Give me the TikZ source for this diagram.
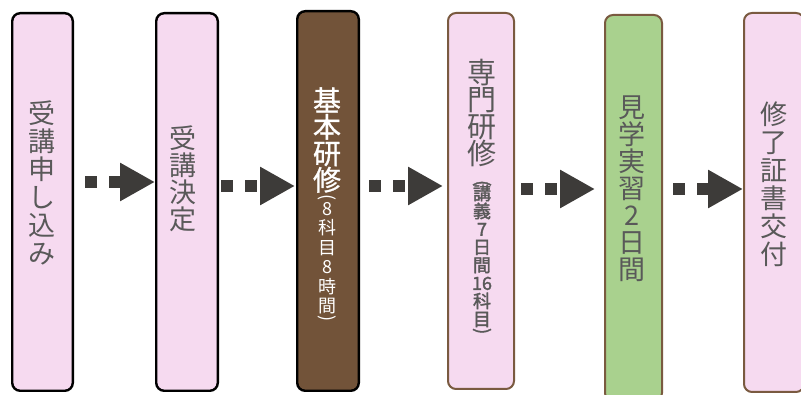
\documentclass[tikz,border=0pt]{standalone}
\usepackage{fontspec}
\setmainfont{Noto Sans CJK JP}
\newfontfamily\semibold[FakeBold=1]{Noto Sans CJK JP}
\newfontfamily\heavyish[FakeBold=2]{Noto Sans CJK JP}
\usepackage{graphicx}
\usetikzlibrary{positioning,calc,arrows.meta}

\definecolor{boxpink}{HTML}{F6DAF0}
\definecolor{boxgreen}{HTML}{A9D18E}
\definecolor{boxbrown}{HTML}{725339}
\definecolor{edgebrown}{HTML}{7A5A40}
\definecolor{flowgray}{HTML}{3D3B39}
\definecolor{textgray}{HTML}{595959}

\newcommand{\vpo}{\rotatebox[origin=c]{-90}{(}}
\newcommand{\vpc}{\rotatebox[origin=c]{-90}{)}}

\begin{document}
\begin{tikzpicture}[x=1pt, y=-1pt]
	\useasboundingbox (0, 0) rectangle (801, 395);
	\begin{scope}
		\tikzstyle{stage}=[rounded corners=8pt, inner sep=0pt, line width=2.4pt, draw=black, fill=boxpink]
		\tikzstyle{vtext}=[align=center, inner sep=0pt, text=textgray, font=\fontsize{27}{28}\selectfont]
		\tikzstyle{vsub}=[align=center, inner sep=0pt, font=\fontsize{18}{18}\selectfont]
		\tikzstyle{flow}=[flowgray, line width=12pt, dash pattern=on 12pt off 12pt, -{Triangle[length=35pt, width=36pt]}]

		\node[stage, minimum width=60.6pt, minimum height=377.6pt] (apply)   at (42.5, 202)  {};
		\node[stage, minimum width=61.6pt, minimum height=377.6pt] (accept)  at (187, 202)   {};
		\node[stage, fill=boxbrown, minimum width=61.6pt, minimum height=379.6pt] (basic) at (328, 201) {};
		\node[stage, line width=2pt, draw=edgebrown, minimum width=66pt, minimum height=376pt] (special) at (481, 201) {};
		\node[stage, line width=2pt, draw=edgebrown, fill=boxgreen, minimum width=57pt, minimum height=386pt] (visit) at (633.5, 208) {};
		\node[stage, line width=2pt, draw=edgebrown, minimum width=60pt, minimum height=379pt] (cert) at (774, 202.5) {};

		\coordinate (row1) at (0, 182);
		\coordinate (row2) at (0, 186);
		\coordinate (row3) at (0, 189);

		\draw [flow, shorten <=11pt] (apply.east |- row1) to (accept.west |- row1);
		\draw [flow, shorten <=2pt, shorten >=1pt] (accept.east |- row2) to (basic.west |- row2);
		\draw [flow, shorten <=9pt, shorten >=4pt] (basic.east |- row2) to (special.west |- row2);
		\draw [flow, shorten <=6pt, shorten >=9pt] (special.east |- row3) to (visit.west |- row3);
		\draw [flow, shorten <=10pt] (visit.east |- row3) to (cert.west |- row3);

		\node[vtext] (applytxt) at (42, 182.5) {受\\講\\申\\し\\込\\み};
		\node[vtext, font=\fontsize{27}{27}\selectfont] (accepttxt) at (183, 179) {受\\講\\決\\定};
		\node[vtext, text=white, font=\fontsize{28}{26.5}\selectfont\semibold] (basictxt) at (327, 140) {基\\本\\研\\修};
		\node[vsub, text=white, font=\fontsize{18}{19.5}\selectfont] (basicsub) at (327, 259.5) {\vpo\\[-8pt]8\\科\\目\\8\\時\\間\\[-8pt]\vpc};
		\node[vtext, font=\fontsize{29}{27}\selectfont] (specialtxt) at (482, 112.5) {専\\門\\研\\修};
		\node[vsub, text=textgray, font=\fontsize{18}{18}\selectfont\heavyish] (specialsub) at (482, 258.5) {\vpo\\[-7pt]講\\義\\7\\日\\間\\16\\科\\目\\[-7pt]\vpc};
		\node[vtext, font=\fontsize{27}{27}\selectfont] (visittxt) at (631.5, 189) {見\\学\\実\\習\\2\\日\\間};
		\node[vtext] (certtxt) at (773.5, 184) {修\\了\\証\\書\\交\\付};
	\end{scope}
\end{tikzpicture}
\end{document}
